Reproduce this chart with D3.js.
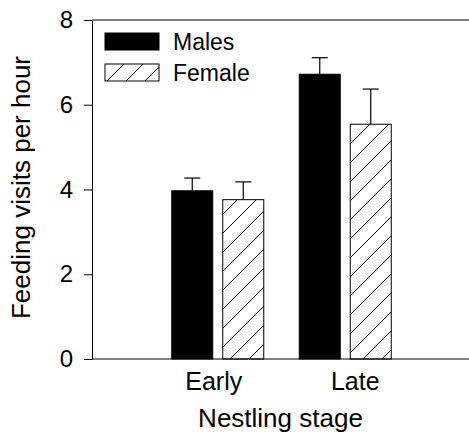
<!DOCTYPE html>
<html>
<head>
<meta charset="utf-8">
<script src="https://cdn.jsdelivr.net/npm/d3@7"></script>
<style>
  body { margin: 0; background: #fff; }
  text { font-family: "Liberation Sans", Arial, sans-serif; }
</style>
</head>
<body>
<div id="plot"></div>
<script>
const width = 469
const height = 438
const margin = ({top: 20, right: 0, bottom: 79, left: 92})

// data
const stages = ["Early", "Late"]
const series = ["Males", "Female"]
const males = [3.97, 6.72]
const female = [3.76, 5.54]
const malesErr = [0.30, 0.39]
const femaleErr = [0.42, 0.83]
const yTicks = [0, 2, 4, 6, 8]

const data = []
stages.forEach((s, i) => {
  data.push({stage: s, sex: "Males", value: males[i], err: malesErr[i]})
  data.push({stage: s, sex: "Female", value: female[i], err: femaleErr[i]})
})

const svg = d3.select("#plot")
  .append("svg")
  .attr("width", width)
  .attr("height", height)

// hatch for the female bars
svg.append("defs").append("pattern")
  .attr("id", "hatch")
  .attr("patternUnits", "userSpaceOnUse")
  .attr("width", 19)
  .attr("height", 19)
  .call(p => p.append("rect").attr("width", 19).attr("height", 19).attr("fill", "#fff"))
  .call(p => p.append("path")
    .attr("d", "M0,19 L19,0 M-4,4 L4,-4 M15,23 L23,15")
    .attr("stroke", "#000")
    .attr("stroke-width", 1))

y = d3.scaleLinear()
  .domain([0, 8])
  .range([height - margin.bottom, margin.top])

x = d3.scaleBand()
  .domain(stages)
  .range([margin.left + 62, width - 60])

xs = d3.scaleBand()
  .domain(series)
  .range([x.bandwidth() / 2 - 46, x.bandwidth() / 2 + 46])
  .paddingInner(0.196)

const fill = d => d.sex == "Males" ? "#000" : "url(#hatch)"

// frame: top line and left axis
svg.append("line")
  .attr("x1", margin.left).attr("x2", width)
  .attr("y1", y(8)).attr("y2", y(8))
  .attr("stroke", "#000")

yAxis = g => g
  .attr("transform", `translate(${margin.left},0)`)
  .call(d3.axisLeft(y).tickValues(yTicks).tickSize(8).tickPadding(11).tickSizeOuter(0))
  .call(g => g.selectAll("text").attr("font-size", 24).attr("font-family", "Liberation Sans, Arial, sans-serif"))
  .call(g => g.selectAll("line, path").attr("stroke", "#000"))

svg.append("g").call(yAxis)

// bars
svg.append("g")
  .selectAll("rect")
  .data(data)
  .join("rect")
  .attr("x", d => x(d.stage) + xs(d.sex))
  .attr("y", d => y(d.value))
  .attr("width", xs.bandwidth())
  .attr("height", d => y(0) - y(d.value))
  .attr("fill", fill)
  .attr("stroke", "#000")
  .attr("stroke-width", 1)

// error bars (upper only)
const eb = svg.append("g").attr("stroke", "#000").attr("stroke-width", 1.2)
eb.selectAll("line.v")
  .data(data)
  .join("line")
  .attr("class", "v")
  .attr("x1", d => x(d.stage) + xs(d.sex) + xs.bandwidth() / 2)
  .attr("x2", d => x(d.stage) + xs(d.sex) + xs.bandwidth() / 2)
  .attr("y1", d => y(d.value))
  .attr("y2", d => y(d.value + d.err))
eb.selectAll("line.cap")
  .data(data)
  .join("line")
  .attr("class", "cap")
  .attr("x1", d => x(d.stage) + xs(d.sex) + xs.bandwidth() / 2 - 8)
  .attr("x2", d => x(d.stage) + xs(d.sex) + xs.bandwidth() / 2 + 8)
  .attr("y1", d => y(d.value + d.err))
  .attr("y2", d => y(d.value + d.err))

// x axis, drawn across to the right edge
// (the original's labels sit a little off the bar centres)
xAxis = g => g
  .attr("transform", `translate(0,${y(0)})`)
  .call(d3.axisBottom(x).tickSize(0).tickPadding(13))
  .call(g => g.select(".domain").remove())
  .call(g => g.selectAll("text")
    .attr("font-size", 25)
    .attr("font-family", "Liberation Sans, Arial, sans-serif")
    .attr("dx", (d, i) => i == 0 ? -4 : 10))
  .call(g => g.append("line")
    .attr("x1", margin.left).attr("x2", width)
    .attr("stroke", "#000"))

svg.append("g").call(xAxis)

// axis titles
svg.append("text")
  .attr("x", (margin.left + width) / 2)
  .attr("y", 427)
  .attr("text-anchor", "middle")
  .attr("font-size", 26)
  .text("Nestling stage")

svg.append("text")
  .attr("transform", `translate(30,187.5) rotate(-90)`)
  .attr("text-anchor", "middle")
  .attr("font-size", 26)
  .text("Feeding visits per hour")

// legend
const legend = svg.append("g")
  .selectAll("g")
  .data(series)
  .join("g")
  .attr("transform", (d, i) => `translate(105,${33 + i * 31})`)

legend.append("rect")
  .attr("width", 54)
  .attr("height", 17)
  .attr("fill", d => d == "Males" ? "#000" : "url(#hatch)")
  .attr("stroke", "#000")

legend.append("text")
  .attr("x", 68)
  .attr("y", 17)
  .attr("font-size", 23)
  .text(d => d)
</script>
</body>
</html>
